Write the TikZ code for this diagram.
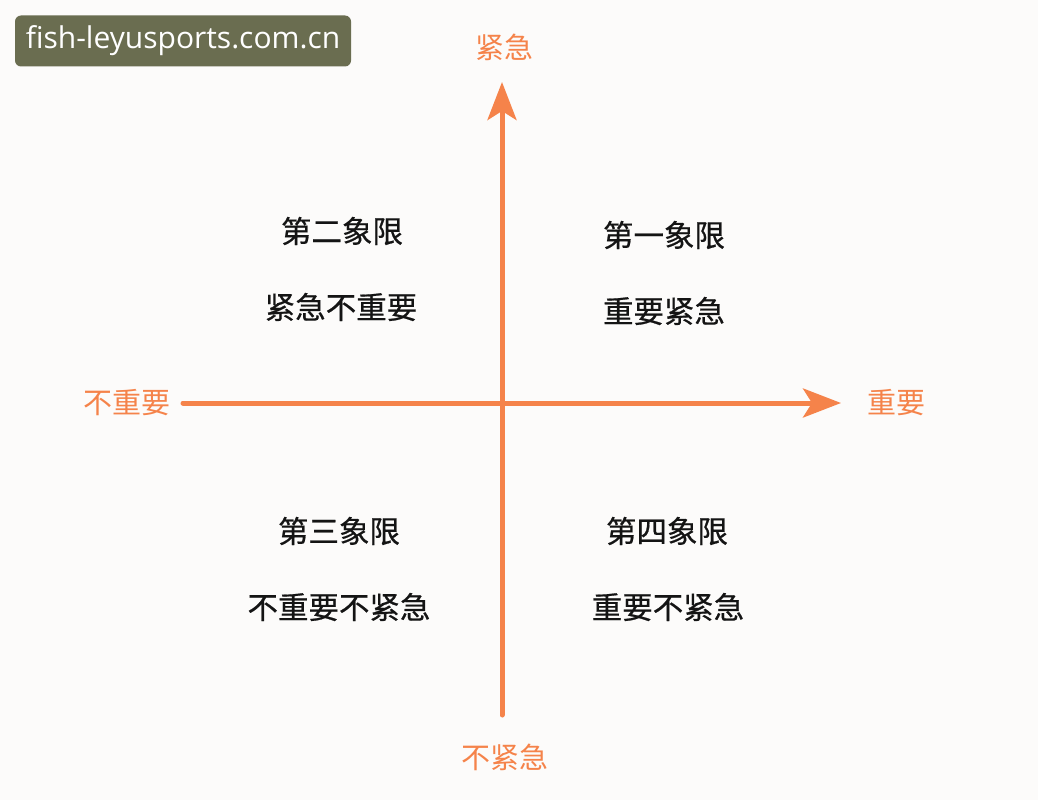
\documentclass[tikz,border=0pt]{standalone}
\usepackage{fontspec}
\setmainfont{Open Sans}
\newfontfamily\cjk{Noto Sans CJK SC}
\newfontfamily\cjkb[FakeBold=0.6]{Noto Sans CJK SC}
\usetikzlibrary{arrows.meta}
\definecolor{axisorange}{HTML}{F5834A}
\definecolor{badge}{HTML}{6A6D50}
\definecolor{bgc}{HTML}{FCFBFA}
\begin{document}
\begin{tikzpicture}[x=1pt,y=-1pt,
  axis/.style={draw=axisorange,line width=5pt,line cap=round,-{Stealth[length=38pt,width=29pt,inset=9pt]}},
  axislabel/.style={text=axisorange,font=\cjk\fontsize{29}{31}\selectfont,inner sep=0pt},
  quad/.style={text=black!92,font=\cjkb\fontsize{30.5}{32}\selectfont,inner sep=0pt}]
\fill[bgc] (0,0) rectangle (1038,800);
\useasboundingbox (0,0) rectangle (1038,800);
% watermark
\node[fill=badge,rounded corners=6pt,minimum width=336pt,minimum height=51pt,inner sep=0pt,text=white,
  font=\fontsize{30}{32}\selectfont] (wm) at (183,41) {fish-leyusports.com.cn};
% axes
\coordinate (hs) at (183,403);
\coordinate (he) at (841,403);
\coordinate (vs) at (502,715);
\coordinate (ve) at (502,82);
\draw[axis] (hs) -- (he);
\draw[axis] (vs) -- (ve);
% axis labels
\node[axislabel] (up) at (504,47) {紧急};
\node[axislabel] (down) at (505,757) {不紧急};
\node[axislabel] (left) at (127,403) {不重要};
\node[axislabel] (right) at (896,403) {重要};
% quadrants
\node[quad] (q2a) at (342,231) {第二象限};
\node[quad] (q2b) at (341,307) {紧急不重要};
\node[quad] (q1a) at (664,235) {第一象限};
\node[quad] (q1b) at (664,311) {重要紧急};
\node[quad] (q3a) at (339,531) {第三象限};
\node[quad] (q3b) at (339,607) {不重要不紧急};
\node[quad] (q4a) at (667,531) {第四象限};
\node[quad] (q4b) at (668,607) {重要不紧急};
\end{tikzpicture}
\end{document}
